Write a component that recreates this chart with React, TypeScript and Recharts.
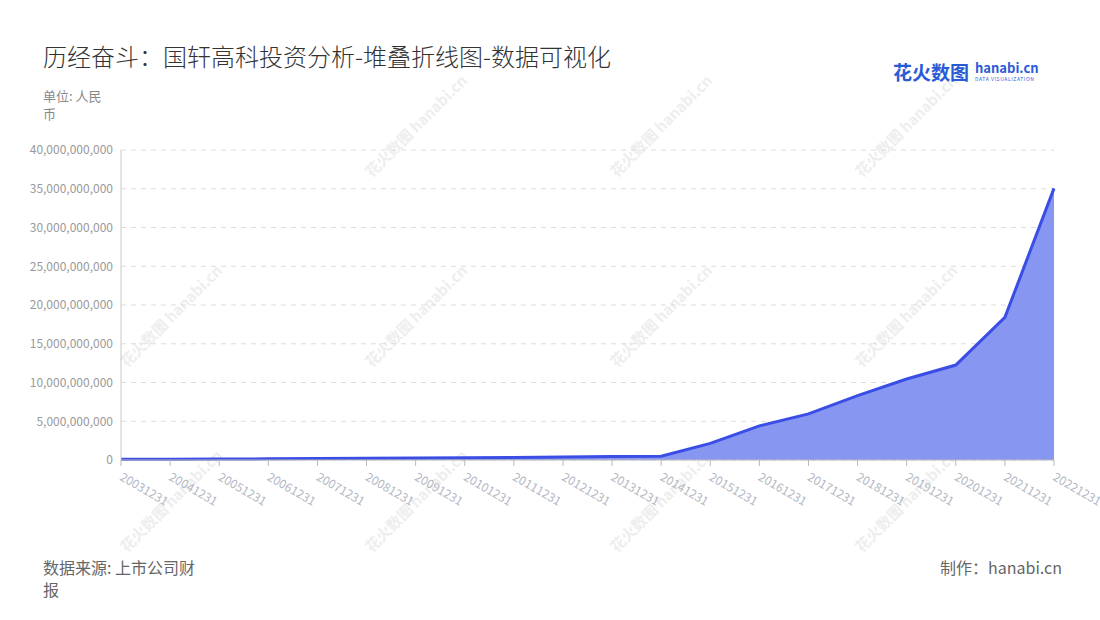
import React from "react";
import {
  AreaChart,
  Area,
  XAxis,
  YAxis,
  CartesianGrid,
} from "recharts";

const dates = [
  "20031231", "20041231", "20051231", "20061231", "20071231",
  "20081231", "20091231", "20101231", "20111231", "20121231",
  "20131231", "20141231", "20151231", "20161231", "20171231",
  "20181231", "20191231", "20201231", "20211231", "20221231",
];

// 资产规模（元）
const values = [
  0.1e9, 0.11e9, 0.13e9, 0.15e9, 0.2e9,
  0.24e9, 0.27e9, 0.3e9, 0.33e9, 0.38e9,
  0.45e9, 0.48e9, 2.15e9, 4.4e9, 5.95e9,
  8.3e9, 10.45e9, 12.25e9, 18.4e9, 35.05e9,
];

const yTicks = [0, 5e9, 10e9, 15e9, 20e9, 25e9, 30e9, 35e9, 40e9];

const data = dates.map((d, i) => ({ name: d, value: values[i] }));

const FONT = '"Noto Sans CJK SC", "Noto Sans", sans-serif';

const fmt = (v: number) => v.toLocaleString("en-US");

function XTick(props: any) {
  const { x, y, payload } = props;
  return (
    <g transform={`translate(${x},${y + 8})`}>
      <text
        transform="rotate(30)"
        textAnchor="start"
        fill="#b4b7c4"
        fontSize={12}
        fontFamily={FONT}
        dy={4}
      >
        {payload.value}
      </text>
    </g>
  );
}

function Watermark({ x, y }: { x: number; y: number }) {
  return (
    <g transform={`translate(${x},${y}) rotate(-45)`}>
      <text fill="#eeeeee" fontSize={15} fontWeight={700} fontFamily={FONT} textAnchor="middle">
        花火数图 hanabi.cn
      </text>
    </g>
  );
}

const marks = [
  [420, 130], [665, 130], [910, 130],
  [175, 320], [420, 320], [665, 320], [910, 320],
  [175, 505], [420, 505], [665, 505], [910, 505],
];

export default function App() {
  return (
    <div
      style={{
        position: "absolute",
        left: 0,
        top: 0,
        width: 1100,
        height: 620,
        background: "#fff",
        fontFamily: FONT,
        overflow: "hidden",
      }}
    >
      <svg width={1100} height={620} style={{ position: "absolute", left: 0, top: 0, pointerEvents: "none" }}>
        {marks.map(([x, y], i) => (
          <Watermark key={i} x={x} y={y} />
        ))}
      </svg>

      <div style={{ position: "absolute", left: 43, top: 38, fontSize: 24, fontWeight: 300, color: "#333" }}>
        历经奋斗：国轩高科投资分析-堆叠折线图-数据可视化
      </div>
      <div style={{ position: "absolute", left: 43, top: 87, width: 70, fontSize: 13, lineHeight: "18px", color: "#888" }}>
        单位: 人民币
      </div>
      <div style={{ position: "absolute", left: 893, top: 60, fontSize: 19, fontWeight: 700, color: "#2a5bd7", lineHeight: "24px" }}>
        花火数图
      </div>
      <div style={{ position: "absolute", left: 975, top: 61, fontSize: 13, fontWeight: 700, color: "#2a5bd7", lineHeight: "13px" }}>
        hanabi.cn
      </div>
      <div style={{ position: "absolute", left: 975, top: 76, fontSize: 5, color: "#2a5bd7", lineHeight: "5px", letterSpacing: 0.6 }}>
        DATA VISUALIZATION
      </div>

      <div style={{ position: "absolute", left: 0, top: 0 }}>
        <AreaChart
          width={1100}
          height={620}
          data={data}
          margin={{ top: 150, right: 46, bottom: 0, left: 0 }}
        >
          <CartesianGrid stroke="#dcdcdc" strokeDasharray="5 5" vertical={false} />
          <XAxis
            dataKey="name"
            interval={0}
            tick={<XTick />}
            tickLine={{ stroke: "#b8b8b8" }}
            axisLine={{ stroke: "#b8b8b8" }}
            tickSize={6}
            height={160}
          />
          <YAxis
            width={121}
            domain={[0, 40e9]}
            ticks={yTicks}
            interval={0}
            tickFormatter={fmt}
            tick={{ fill: "#999", fontSize: 12, fontFamily: FONT }}
            tickLine={false}
            axisLine={{ stroke: "#c8c8c8" }}
          />
          <Area
            type="linear"
            dataKey="value"
            stroke="#3a4ee6"
            strokeWidth={3}
            fill="#8797f1"
            fillOpacity={1}
            isAnimationActive={false}
            dot={false}
            activeDot={false}
          />
        </AreaChart>
      </div>

      <div style={{ position: "absolute", left: 43, top: 556, width: 162, fontSize: 16, lineHeight: "22px", color: "#666" }}>
        数据来源: 上市公司财报
      </div>
      <div style={{ position: "absolute", right: 38, top: 556, fontSize: 16, lineHeight: "22px", color: "#666" }}>
        制作：hanabi.cn
      </div>
    </div>
  );
}
